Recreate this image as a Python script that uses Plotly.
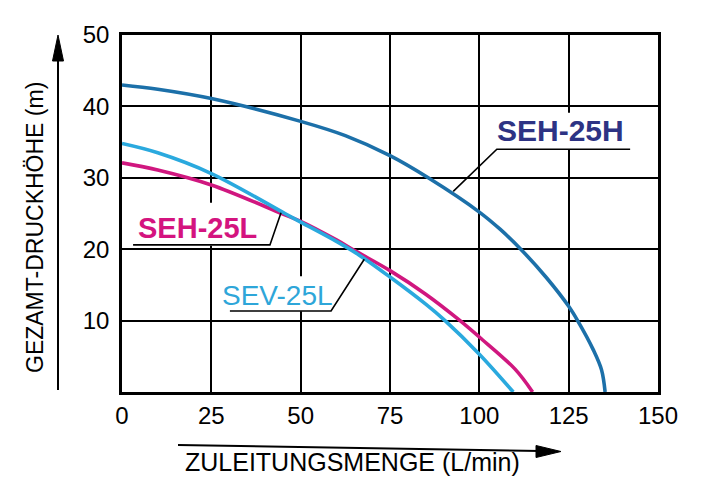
import plotly.graph_objects as go

# ---- data ----
seh25h_x = [0, 10, 25, 50, 62.5, 75, 85.7, 100, 105.8, 111.6, 118.8, 125, 127.5, 131.9, 134.2, 135.2]
seh25h_y = [43, 42.4, 41.1, 37.9, 35.9, 33.1, 30, 25.2, 22.8, 20, 16.0, 12.0, 10, 5.9, 3.1, 0]

seh25l_x = [0, 10, 25, 44.7, 50, 60, 65.5, 75, 85, 94.6, 100, 110, 114.9]
seh25l_y = [32.1, 31.1, 29, 25, 23.9, 21.3, 19.7, 17, 13.7, 10, 7.7, 3.2, 0]

sev25l_x = [0, 10, 25, 45.6, 50, 60, 66, 75, 85, 90.4, 100, 109.5]
sev25l_y = [34.8, 33.5, 30.6, 25, 23.8, 21.1, 19.3, 16.1, 12.3, 10, 5.3, 0]

x_ticks = [0, 25, 50, 75, 100, 125, 150]
y_ticks = [10, 20, 30, 40, 50]

series_names = ["SEH-25H", "SEH-25L", "SEV-25L"]
line_colors = ["#1c70a9", "#d0177f", "#2aa9de"]
label_colors = ["#2d3384", "#d4147f", "#2ea6d9"]

x_title = "ZULEITUNGSMENGE (L/min)"
y_title = "GEZAMT-DRUCKHÖHE (m)"

# ---- figure ----
W, H = 708, 503
L, R, T, B = 122, 50, 35, 111
PW, PH = W - L - R, H - T - B


def px(xp, yp):
    """pixel -> paper coords"""
    return (xp - L) / PW, (H - B - yp) / PH


fig = go.Figure()
for xs, ys, name, col in zip([seh25h_x, seh25l_x, sev25l_x],
                             [seh25h_y, seh25l_y, sev25l_y],
                             series_names, line_colors):
    fig.add_trace(go.Scatter(x=xs, y=ys, mode="lines", name=name,
                             line=dict(color=col, width=3.6, shape="spline", smoothing=1.0),
                             hoverinfo="skip"))

shapes = []
annotations = []

# label definitions: text centre, white box, underline+leader path (data coords)
labels = [
    dict(name="SEH-25H", tx=122.6, ty=36.6, bold=True, size=30,
         box=(104.3, 33.9, 142.7, 39.1),
         path=[(142.2, 34.0), (104.9, 34.0), (92.7, 28.1)]),
    dict(name="SEH-25L", tx=21.0, ty=23.0, bold=True, size=29,
         box=(2.5, 20.5, 42.0, 26.5),
         path=[(3.1, 20.6), (41.4, 20.6), (44.5, 25.1)]),
    dict(name="SEV-25L", tx=43.4, ty=13.5, bold=False, size=28,
         box=(27.4, 11.3, 59.6, 16.2),
         path=[(30.2, 11.35), (58.5, 11.35), (67.8, 18.6)]),
]
for lab, col in zip(labels, label_colors):
    x0, y0, x1, y1 = lab["box"]
    shapes.append(dict(type="rect", xref="x", yref="y", x0=x0, y0=y0, x1=x1, y1=y1,
                       fillcolor="white", line=dict(width=0), layer="between"))
    p = lab["path"]
    shapes.append(dict(type="path", xref="x", yref="y",
                       path="M {},{} L {},{} L {},{}".format(p[0][0], p[0][1], p[1][0], p[1][1], p[2][0], p[2][1]),
                       line=dict(color="black", width=1.6), layer="above"))
    txt = "<b>%s</b>" % lab["name"] if lab["bold"] else lab["name"]
    annotations.append(dict(x=lab["tx"], y=lab["ty"], xref="x", yref="y", text=txt,
                            showarrow=False, xanchor="center", yanchor="middle",
                            font=dict(family="Liberation Sans, Arial", size=lab["size"], color=col)))

# axis arrows (paper coords from pixel positions)
ax0 = px(58, 390); ax1 = px(58, 58)
shapes.append(dict(type="line", xref="paper", yref="paper", x0=ax0[0], y0=ax0[1], x1=ax1[0], y1=ax1[1],
                   line=dict(color="black", width=2)))
a, b, c = px(58, 35), px(52.5, 61), px(63.5, 61)
shapes.append(dict(type="path", xref="paper", yref="paper",
                   path="M {},{} L {},{} L {},{} Z".format(a[0], a[1], b[0], b[1], c[0], c[1]),
                   fillcolor="black", line=dict(color="black", width=1)))
h0 = px(178, 445); h1 = px(540, 451)
shapes.append(dict(type="line", xref="paper", yref="paper", x0=h0[0], y0=h0[1], x1=h1[0], y1=h1[1],
                   line=dict(color="black", width=2)))
a, b, c = px(561, 451.5), px(536, 445.5), px(536, 457.5)
shapes.append(dict(type="path", xref="paper", yref="paper",
                   path="M {},{} L {},{} L {},{} Z".format(a[0], a[1], b[0], b[1], c[0], c[1]),
                   fillcolor="black", line=dict(color="black", width=1)))

# axis titles
yt = px(35, 228)
annotations.append(dict(x=yt[0], y=yt[1], xref="paper", yref="paper", text=y_title,
                        textangle=-90, showarrow=False, xanchor="center", yanchor="middle",
                        font=dict(family="Liberation Sans, Arial", size=23, color="black")))
xt = px(352, 462)
annotations.append(dict(x=xt[0], y=xt[1], xref="paper", yref="paper", text=x_title,
                        showarrow=False, xanchor="center", yanchor="middle",
                        font=dict(family="Liberation Sans, Arial", size=25, color="black")))

fig.update_layout(
    width=W, height=H,
    margin=dict(l=L, r=R, t=T, b=B, pad=0),
    paper_bgcolor="white", plot_bgcolor="white",
    showlegend=False, hovermode=False,
    shapes=shapes, annotations=annotations,
    font=dict(family="Liberation Sans, Arial", size=24, color="black"),
)
fig.update_xaxes(range=[0, 150], tickvals=x_ticks, ticktext=[str(v) for v in x_ticks],
                 showgrid=True, gridcolor="black", gridwidth=2,
                 showline=True, linecolor="black", linewidth=2.5, mirror=True,
                 zeroline=False, ticks="outside", ticklen=0, ticklabelstandoff=0,
                 tickfont=dict(size=24, color="black"), fixedrange=True)
fig.update_yaxes(range=[0, 50], tickvals=y_ticks, ticktext=[str(v) for v in y_ticks],
                 showgrid=True, gridcolor="black", gridwidth=2,
                 showline=True, linecolor="black", linewidth=2.5, mirror=True,
                 zeroline=False, ticks="outside", ticklen=0, ticklabelstandoff=5,
                 tickfont=dict(size=24, color="black"), fixedrange=True)

fig.write_html("out.html", config={"displayModeBar": False},
               post_script="document.body.style.margin='0';")
